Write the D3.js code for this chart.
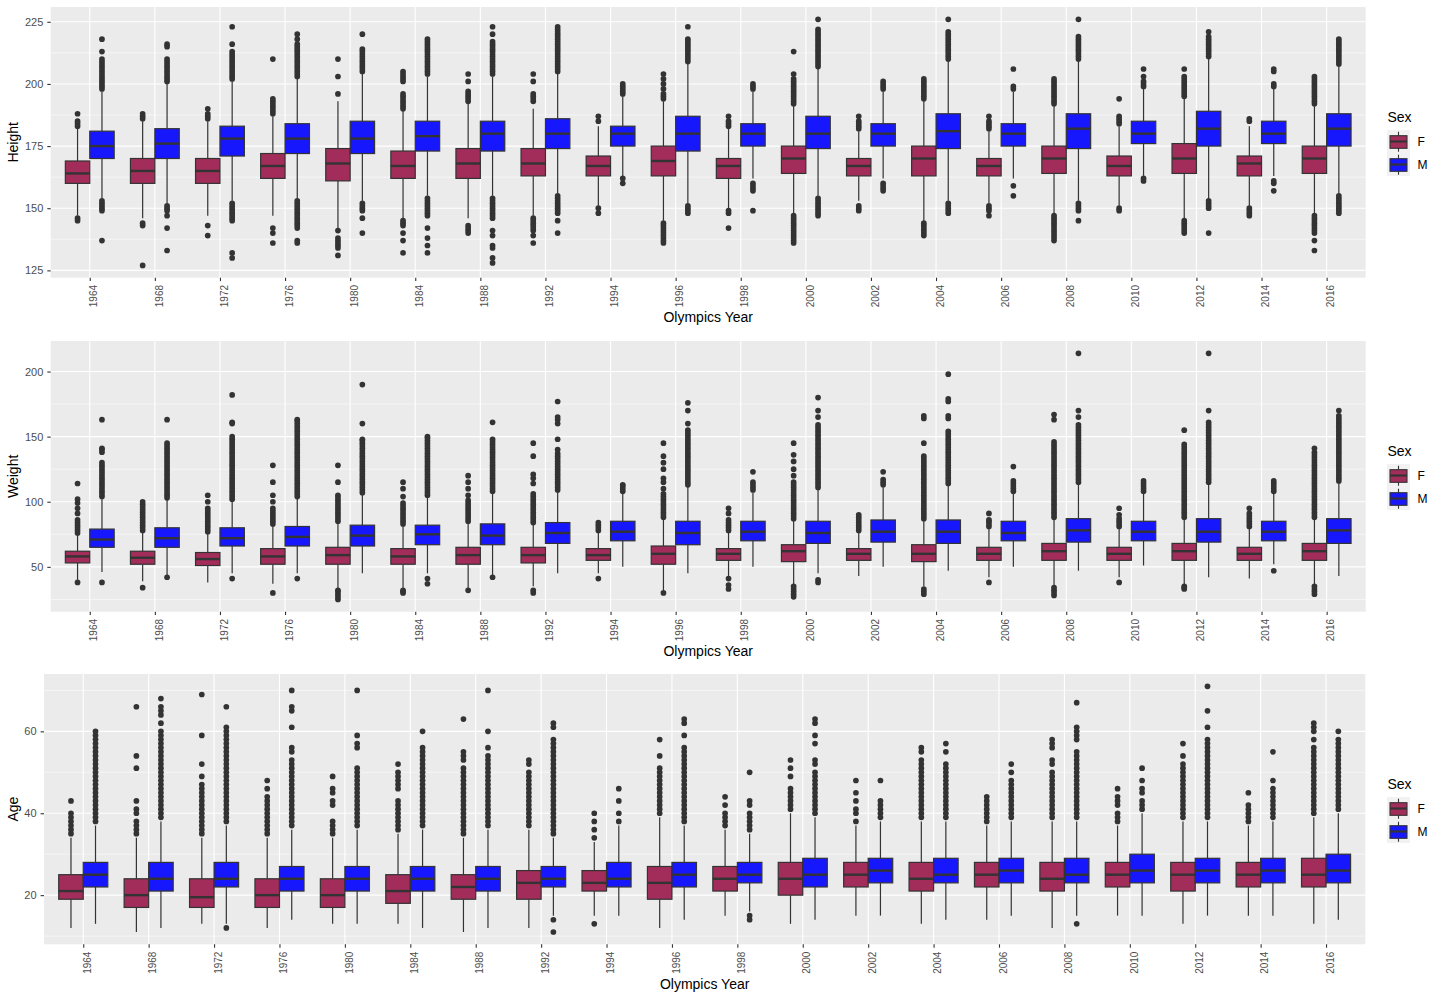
<!DOCTYPE html>
<html>
<head>
<meta charset="utf-8">
<script src="https://cdn.jsdelivr.net/npm/d3@7"></script>
<style>
  body { margin: 0; background: #fff; }
  svg { display: block; font-family: "Liberation Sans", Arial, sans-serif; }
  .axis-title { font-size: 14px; fill: #000; }
  .legend-title { font-size: 14px; fill: #000; }
  .legend-label { font-size: 12px; fill: #000; }
</style>
</head>
<body>
<svg id="chart" width="1442" height="1000"></svg>
<script>
var years = [1964, 1968, 1972, 1976, 1980, 1984, 1988, 1992, 1994, 1996,
             1998, 2000, 2002, 2004, 2006, 2008, 2010, 2012, 2014, 2016];
var sexes = ["F", "M"];

// box stats per year: [lower whisker, Q1, median, Q3, upper whisker]
var heightF = [
  [147,160,164,169,182], [146,160,165,170,185], [147,160,165,170,185], [147,162,167,172,187],
  [142,161,168,174,193], [146,162,167,173,189], [146,162,168,174,192], [147,163,168,174,190],
  [151,163,167,171,183], [145,163,169,175,193], [150,162,167,170,182], [148,164,170,175,191],
  [153,163,167,170,181], [145,163,170,175,193], [152,163,167,170,181], [148,164,170,175,191],
  [151,163,167,171,183], [146,164,170,176,194], [151,163,168,171,183], [148,164,170,175,191]];
var heightM = [
  [154,170,175,181,197], [152,170,176,182,200], [153,171,178,183,201], [154,172,178,184,202],
  [153,172,178,185,204], [155,173,179,185,203], [155,173,180,185,203], [156,174,180,186,204],
  [163,175,180,183,195], [152,173,180,187,208], [162,175,180,184,197], [155,174,180,187,206],
  [162,175,180,184,197], [153,174,181,188,209], [162,175,180,184,197], [153,174,182,188,209],
  [163,176,180,185,198], [154,175,182,189,210], [163,176,180,185,198], [156,175,182,188,207]];
var heightOutF = [
  [145,146,183,184,185,188],
  [127,143,144,186,187,188],
  [139,143,186,187,188,190],
  [136,140,142,188,189,190,191,192,193,194,210],
  [131,134,135,136,137,138,141,196,203,210],
  [132,137,140,143,144,145,190,191,192,193,194,195,196,201,202,203,204,205],
  [140,141,142,143,193,194,195,196,197,201,204],
  [136,139,141,142,143,144,145,146,193,194,195,196,201,204],
  [148,150,185,187],
  [136,137,138,139,140,141,142,143,144,194,195,196,198,200,202,204],
  [142,148,149,183,184,185,187],
  [136,137,138,139,140,141,142,143,144,145,146,147,192,193,194,195,196,197,198,199,200,201,202,204,213],
  [149,150,151,182,183,184,185,187],
  [139,140,141,142,143,144,194,195,196,197,198,199,200,201,202],
  [147,149,150,151,182,183,184,185,187],
  [137,138,139,140,141,142,143,144,145,146,147,192,193,194,195,196,197,198,199,200,201,202],
  [149,150,184,185,186,187,194],
  [140,141,142,143,144,145,195,196,197,198,199,200,201,202,203,206],
  [147,148,149,150,185,186],
  [133,137,140,141,142,143,144,145,146,147,192,193,194,195,196,197,198,199,200,201,202,203]];
var heightOutM = [
  [137,149,150,151,152,153,198,199,200,201,202,203,204,205,206,207,208,209,210,213,218],
  [133,142,147,149,150,151,201,202,203,204,205,206,207,208,209,210,215,216],
  [130,132,145,146,147,148,149,150,151,152,202,203,204,205,206,207,208,209,210,211,212,213,216,223],
  [136,137,142,143,144,145,146,147,148,149,150,151,152,153,203,204,205,206,207,208,209,210,211,212,213,214,215,216,218,220],
  [140,146,149,150,151,152,205,206,207,208,209,210,211,212,213,214,220],
  [132,135,138,142,147,148,149,150,151,152,153,154,204,205,206,207,208,209,210,211,212,213,214,215,216,217,218],
  [128,130,134,135,139,141,146,147,148,149,150,151,152,153,154,204,205,206,207,208,209,210,211,212,213,214,215,216,217,220,223],
  [140,145,148,149,150,151,152,153,154,155,205,206,207,208,209,210,211,212,213,214,215,216,217,218,219,220,221,222,223],
  [160,162,196,197,198,199,200],
  [148,149,150,151,209,210,211,212,213,214,215,216,217,218,223],
  [149,157,158,159,160,198,199,200],
  [147,148,149,150,151,152,153,154,207,208,209,210,211,212,213,214,215,216,217,218,219,220,221,222,226],
  [157,158,159,160,198,199,200,201],
  [148,149,150,151,152,210,211,212,213,214,215,216,217,218,219,220,221,226],
  [155,159,198,199,206],
  [145,149,150,151,152,210,211,212,213,214,215,216,217,218,219,226],
  [161,162,199,200,201,203,206],
  [140,150,151,152,153,211,212,213,214,215,216,217,218,219,221],
  [157,160,161,199,200,205,206],
  [148,149,150,151,152,153,154,155,208,209,210,211,212,213,214,215,216,217,218]];

var weightF = [
  [40,53,58,62,75], [39,52,57,62,77], [38,51,56,61,76], [37,52,58,64,82],
  [33,52,59,65,84], [34,52,58,64,82], [33,52,59,65,84], [35,53,59,65,83],
  [45,55,59,64,77], [32,52,60,66,87], [42,55,60,64,77], [36,54,62,67,86],
  [43,55,60,64,77], [35,54,60,67,86], [42,55,60,65,80], [36,55,62,68,87],
  [42,55,60,65,80], [36,55,62,68,87], [41,55,60,65,80], [36,55,62,68,87]];
var weightM = [
  [46,65,71,79,102], [43,65,72,80,102], [45,66,72,80,101], [45,66,73,81,103],
  [45,66,74,82,106], [45,67,75,82,104], [43,67,74,83,107], [45,68,76,84,108],
  [50,70,77,85,107], [45,67,76,85,112], [50,70,77,85,107], [45,68,76,85,110],
  [50,69,77,86,111], [47,68,77,86,113], [50,70,76,85,107], [47,69,78,87,114],
  [51,70,77,85,107], [42,69,77,87,114], [52,70,77,85,107], [43,68,78,87,115]];
var weightOutF = [
  [38,76,78,80,82,84,86,91,95,99,102,114],
  [34,78,80,82,84,86,88,90,92,94,96,98,100],
  [77,79,81,83,85,87,89,91,93,95,100,105],
  [30,83,85,87,89,91,93,95,100,105,115,128],
  [25,27,29,31,32,85,87,89,91,93,95,97,99,101,103,105,115,128],
  [30,31,32,83,85,87,89,91,93,95,97,99,104,110,115],
  [32,85,87,89,91,93,95,97,99,101,105,110,115,120],
  [30,32,84,86,88,90,92,94,96,98,100,102,104,106,114,118,121,135,145],
  [41,78,80,82,84],
  [30,88,90,92,94,96,98,100,102,104,106,110,115,118,125,130,135,145],
  [33,36,41,78,80,82,84,86,91,95],
  [27,29,31,33,35,87,89,91,93,95,97,99,101,103,105,107,109,111,113,115,120,125,131,136,145],
  [78,80,82,84,86,88,90],
  [29,31,33,87,89,91,93,95,97,99,101,103,105,107,109,111,113,115,117,119,121,123,125,127,129,131,133,135,145,164,166],
  [38,81,83,85,86,91],
  [28,30,32,34,88,90,92,94,96,98,100,102,104,106,108,110,112,114,116,118,120,122,124,126,128,130,132,134,136,138,140,142,144,146,163,167],
  [38,81,83,85,87,90,95],
  [33,34,35,88,90,92,94,96,98,100,102,104,106,108,110,112,114,116,118,120,122,124,126,128,130,132,134,136,138,140,142,144,155],
  [81,83,85,87,89,91,95],
  [29,31,33,35,88,90,92,94,96,98,100,102,104,106,108,110,112,114,116,118,120,122,124,126,128,130,132,134,136,138,141]];
var weightOutM = [
  [38,104,106,108,110,112,114,116,118,120,122,124,126,128,130,138,140,141,163],
  [42,103,105,107,109,111,113,115,117,119,121,123,125,127,129,131,133,135,137,139,141,143,145,163],
  [41,102,104,106,108,110,112,114,116,118,120,122,124,126,128,130,132,134,136,138,140,142,144,146,148,150,160,161,182],
  [41,104,106,108,110,112,114,116,118,120,122,124,126,128,130,132,134,136,138,140,142,144,146,148,150,152,154,156,158,160,162,163],
  [107,109,111,113,115,117,119,121,123,125,127,129,131,133,135,137,139,141,143,145,147,148,160,190],
  [37,41,105,107,109,111,113,115,117,119,121,123,125,127,129,131,133,135,137,139,141,143,145,147,149,150],
  [42,108,110,112,114,116,118,120,122,124,126,128,130,132,134,136,138,140,142,144,146,148,161],
  [109,111,113,115,117,119,121,123,125,127,129,131,133,135,137,140,148,160,163,165,177],
  [108,110,112,113],
  [113,115,117,119,121,123,125,127,129,131,133,135,137,139,141,143,145,147,149,151,153,155,160,170,176],
  [109,111,113,115,123],
  [38,40,111,113,115,117,119,121,123,125,127,129,131,133,135,137,139,141,143,145,147,149,151,153,155,157,159,165,170,180],
  [113,115,117,123],
  [114,116,118,120,122,124,126,128,130,132,134,136,138,140,142,144,146,148,150,152,154,164,166,177,179,198],
  [108,110,112,114,116,127],
  [115,117,119,121,123,125,127,129,131,133,135,137,139,141,143,145,147,149,151,153,155,157,159,165,170,214],
  [108,110,112,114,116],
  [115,117,119,121,123,125,127,129,131,133,135,137,139,141,143,145,147,149,151,153,155,157,159,161,170,214],
  [47,108,110,112,114,116],
  [116,118,120,122,124,126,128,130,132,134,136,138,140,142,144,146,148,150,152,154,156,158,160,162,164,166,170]];

var ageF = [
  [12,19,21,25,34], [11,17,20,24,34], [13,17,19.5,24,34], [12,17,20,24,34],
  [13,17,20,24,34], [13,18,21,25,35], [11,19,22,25,34], [12,19,23,26,36],
  [15,21,23,26,33], [12,19,23,27,39], [15,21,24,27,36], [13,20,24,28,40],
  [15,22,25,28,37], [13,21,24,28,38], [14,22,25,28,37], [12,21,24,28,38],
  [15,22,25,28,37], [13,21,25,28,38], [15,22,25,28,37], [13,22,25,29,39]];
var ageM = [
  [13,22,25,28,37], [12,21,24,28,38], [13,22,24,28,37], [14,21,24,27,36],
  [13,21,24,27,36], [12,21,24,27,36], [12,21,24,27,36], [15,22,24,27,34],
  [15,22,24,28,37], [14,22,25,28,37], [16,23,25,28,35], [14,22,25,29,39],
  [15,23,26,29,38], [14,23,25,29,38], [15,23,26,29,38], [15,23,25,29,38],
  [15,23,26,30,40], [15,23,26,29,38], [15,23,26,29,38], [14,23,26,30,40]];
var ageOutF = [
  [35,36,37,38,39,40,43],
  [35,36,37,38,40,41,43,51,54,66],
  [35,36,37,38,39,40,41,42,43,44,45,46,47,49,52,59,69],
  [35,36,37,38,39,40,41,42,43,44,46,48],
  [35,36,37,38,42,43,45,46,49],
  [36,37,38,39,40,41,42,43,46,47,48,49,50,52],
  [35,36,37,38,39,40,41,42,43,44,45,46,47,48,49,50,51,53,54,55,63],
  [37,38,39,40,41,42,43,44,45,46,47,48,49,50,52,53],
  [13,34,36,38,40],
  [40,41,42,43,44,45,46,47,48,49,50,51,54,58],
  [37,38,39,40,42,44],
  [41,42,43,44,45,46,49,51,53],
  [38,40,41,43,45,48],
  [39,40,41,42,43,44,45,46,47,48,49,50,51,52,53,55,56],
  [38,39,40,41,42,43,44],
  [39,40,41,42,43,44,45,46,47,48,49,50,52,53,56,57,58],
  [38,39,40,42,43,44,46],
  [39,40,41,42,43,44,45,46,47,48,49,50,51,52,54,57],
  [38,39,40,41,42,45],
  [40,41,42,43,44,45,46,47,48,49,50,51,52,53,54,55,56,58,60,61,62]];
var ageOutM = [
  [38,39,40,41,42,43,44,45,46,47,48,49,50,51,52,53,54,55,56,57,58,59,60],
  [39,40,41,42,43,44,45,46,47,48,49,50,51,52,53,54,55,56,57,58,59,60,62,64,65,66,68],
  [12,38,39,40,41,42,43,44,45,46,47,48,49,50,51,52,53,54,55,56,57,58,59,60,61,66],
  [37,38,39,40,41,42,43,44,45,46,47,48,49,50,51,52,53,55,56,61,65,66,70],
  [37,38,39,40,41,42,43,44,45,46,47,48,49,50,51,56,57,59,70],
  [37,38,39,40,41,42,43,44,45,46,47,48,49,50,51,52,53,54,55,56,60],
  [37,38,39,40,41,42,43,44,45,46,47,48,49,50,51,52,53,54,56,60,70],
  [11,14,35,36,37,38,39,40,41,42,43,44,45,46,47,48,49,50,51,52,53,54,55,56,57,58,61,62],
  [38,40,43,46],
  [38,39,40,41,42,43,44,45,46,47,48,49,50,51,52,53,54,55,56,59,62,63],
  [14,15,36,37,38,39,40,42,43,50],
  [40,41,42,43,44,45,46,47,48,49,50,52,53,57,59,62,63],
  [39,40,41,42,43,48],
  [39,40,41,42,43,44,45,46,47,48,49,50,51,52,55,57],
  [39,40,41,42,43,44,45,46,47,48,50,52],
  [13,39,40,41,42,43,44,45,46,47,48,49,50,51,52,53,54,55,58,59,60,61,67],
  [41,42,43,45,46,48,51],
  [39,40,41,42,43,44,45,46,47,48,49,50,51,52,53,54,55,56,57,58,61,65,71],
  [39,40,41,42,43,44,45,46,48,55],
  [41,42,43,44,45,46,47,48,49,50,51,52,53,54,55,56,57,58,60]];

var heightTicks = [125, 150, 175, 200, 225];
var weightTicks = [50, 100, 150, 200];
var ageTicks = [20, 40, 60];

var fillColor = {F: "#a32d5a", M: "#1717fd"};
var ink = "#333333";

var panels = [
  {title: "Height", F: heightF, M: heightM, outF: heightOutF, outM: heightOutM, ticks: heightTicks,
   left: 50.7, right: 1365.7, top: 7, bottom: 277.7, xTitleY: 322},
  {title: "Weight", F: weightF, M: weightM, outF: weightOutF, outM: weightOutM, ticks: weightTicks,
   left: 50.7, right: 1365.7, top: 341, bottom: 611.7, xTitleY: 655.5},
  {title: "Age", F: ageF, M: ageM, outF: ageOutF, outM: ageOutM, ticks: ageTicks,
   left: 44, right: 1365.3, top: 674, bottom: 944.3, xTitleY: 988.5}
];

var svg = d3.select("#chart");

function drawPanel(p) {
  var g = svg.append("g");

  var x = d3.scalePoint().domain(years).range([p.left, p.right]).padding(0.6);
  var step = x.step();
  var boxW = step * 0.375;
  var dodge = {F: -step * 0.1875, M: step * 0.1875};

  var all = d3.merge([d3.merge(p.F), d3.merge(p.M), d3.merge(p.outF), d3.merge(p.outM)]);
  var ext = d3.extent(all);
  var pad = (ext[1] - ext[0]) * 0.05;
  var y = d3.scaleLinear().domain([ext[0] - pad, ext[1] + pad]).range([p.bottom, p.top]);
  var dom = y.domain();

  // panel background + grid
  g.append("rect")
    .attr("x", p.left).attr("y", p.top)
    .attr("width", p.right - p.left).attr("height", p.bottom - p.top)
    .attr("fill", "#ebebeb");

  var half = (p.ticks[1] - p.ticks[0]) / 2;
  var minor = [p.ticks[0] - half].concat(p.ticks.map(function (t) { return t + half; }))
    .filter(function (v) { return v > dom[0] && v < dom[1]; });

  g.selectAll(".minor").data(minor).enter().append("line")
    .attr("x1", p.left).attr("x2", p.right)
    .attr("y1", function (d) { return y(d); }).attr("y2", function (d) { return y(d); })
    .attr("stroke", "#fff").attr("stroke-width", 0.55);

  g.selectAll(".hmajor").data(p.ticks).enter().append("line")
    .attr("x1", p.left).attr("x2", p.right)
    .attr("y1", function (d) { return y(d); }).attr("y2", function (d) { return y(d); })
    .attr("stroke", "#fff").attr("stroke-width", 1.1);

  g.selectAll(".vmajor").data(years).enter().append("line")
    .attr("x1", function (d) { return x(d); }).attr("x2", function (d) { return x(d); })
    .attr("y1", p.top).attr("y2", p.bottom)
    .attr("stroke", "#fff").attr("stroke-width", 1.1);

  // boxes
  var boxes = [];
  years.forEach(function (yr, i) {
    sexes.forEach(function (s) {
      boxes.push({year: yr, sex: s, stats: p[s][i], out: (s === "F" ? p.outF : p.outM)[i]});
    });
  });

  var bg = g.selectAll(".box").data(boxes).enter().append("g")
    .attr("transform", function (d) { return "translate(" + (x(d.year) + dodge[d.sex]) + ",0)"; });

  bg.selectAll("circle").data(function (d) { return d.out; }).enter().append("circle")
    .attr("cx", 0).attr("cy", function (v) { return y(v); })
    .attr("r", 2.85).attr("fill", ink);

  bg.append("line")
    .attr("y1", function (d) { return y(d.stats[0]); }).attr("y2", function (d) { return y(d.stats[1]); })
    .attr("stroke", ink).attr("stroke-width", 1.2);
  bg.append("line")
    .attr("y1", function (d) { return y(d.stats[3]); }).attr("y2", function (d) { return y(d.stats[4]); })
    .attr("stroke", ink).attr("stroke-width", 1.2);

  bg.append("rect")
    .attr("x", -boxW / 2).attr("width", boxW)
    .attr("y", function (d) { return y(d.stats[3]); })
    .attr("height", function (d) { return y(d.stats[1]) - y(d.stats[3]); })
    .attr("fill", function (d) { return fillColor[d.sex]; })
    .attr("stroke", ink).attr("stroke-width", 1.2);

  bg.append("line")
    .attr("x1", -boxW / 2).attr("x2", boxW / 2)
    .attr("y1", function (d) { return y(d.stats[2]); }).attr("y2", function (d) { return y(d.stats[2]); })
    .attr("stroke", ink).attr("stroke-width", 2.4);

  // axes
  var ya = g.append("g")
    .attr("transform", "translate(" + p.left + ",0)")
    .call(d3.axisLeft(y).tickValues(p.ticks).tickSize(3.4).tickPadding(4));
  ya.attr("font-family", null).attr("font-size", null);
  ya.select(".domain").remove();
  ya.selectAll("line").attr("stroke", ink).attr("stroke-width", 1.1);
  ya.selectAll("text").attr("fill", "#4d4d4d").style("font-size", "11px");

  var xa = g.append("g")
    .attr("transform", "translate(0," + p.bottom + ")")
    .call(d3.axisBottom(x).tickSize(3.4));
  xa.attr("font-family", null).attr("font-size", null);
  xa.select(".domain").remove();
  xa.selectAll("line").attr("stroke", ink).attr("stroke-width", 1.1);
  xa.selectAll("text")
    .attr("transform", "rotate(-90)")
    .attr("x", -7.3).attr("y", 0).attr("dy", "0.72em")
    .attr("text-anchor", "end")
    .attr("fill", "#4d4d4d").style("font-size", "10px");

  // axis titles
  svg.append("text").attr("class", "axis-title")
    .attr("text-anchor", "middle")
    .attr("transform", "translate(17.5," + ((p.top + p.bottom) / 2) + ") rotate(-90)")
    .text(p.title);
  svg.append("text").attr("class", "axis-title")
    .attr("text-anchor", "middle")
    .attr("x", (p.left + p.right) / 2).attr("y", p.xTitleY)
    .text("Olympics Year");

  // legend
  var lg = svg.append("g").attr("transform", "translate(1387," + (p.top + 114.7) + ")");
  lg.append("text").attr("class", "legend-title").attr("x", 0.5).attr("y", 0).text("Sex");
  var keySize = 23;
  var key = lg.selectAll(".key").data(sexes).enter().append("g")
    .attr("transform", function (d, i) { return "translate(0," + (8.3 + i * keySize) + ")"; });
  key.append("rect").attr("width", keySize).attr("height", keySize).attr("fill", "#f2f2f2");
  key.append("line").attr("x1", keySize / 2).attr("x2", keySize / 2)
    .attr("y1", 1.7).attr("y2", keySize - 1.3).attr("stroke", ink).attr("stroke-width", 1.1);
  key.append("rect").attr("x", 3).attr("width", keySize - 6)
    .attr("y", 5.7).attr("height", 12.6)
    .attr("fill", function (d) { return fillColor[d]; })
    .attr("stroke", ink).attr("stroke-width", 1.1);
  key.append("line").attr("x1", 3).attr("x2", keySize - 3)
    .attr("y1", keySize / 2).attr("y2", keySize / 2)
    .attr("stroke", ink).attr("stroke-width", 2.2);
  key.append("text").attr("class", "legend-label")
    .attr("x", 30.5).attr("y", keySize / 2 + 4.3)
    .text(function (d) { return d; });
}

panels.forEach(drawPanel);
</script>
</body>
</html>
